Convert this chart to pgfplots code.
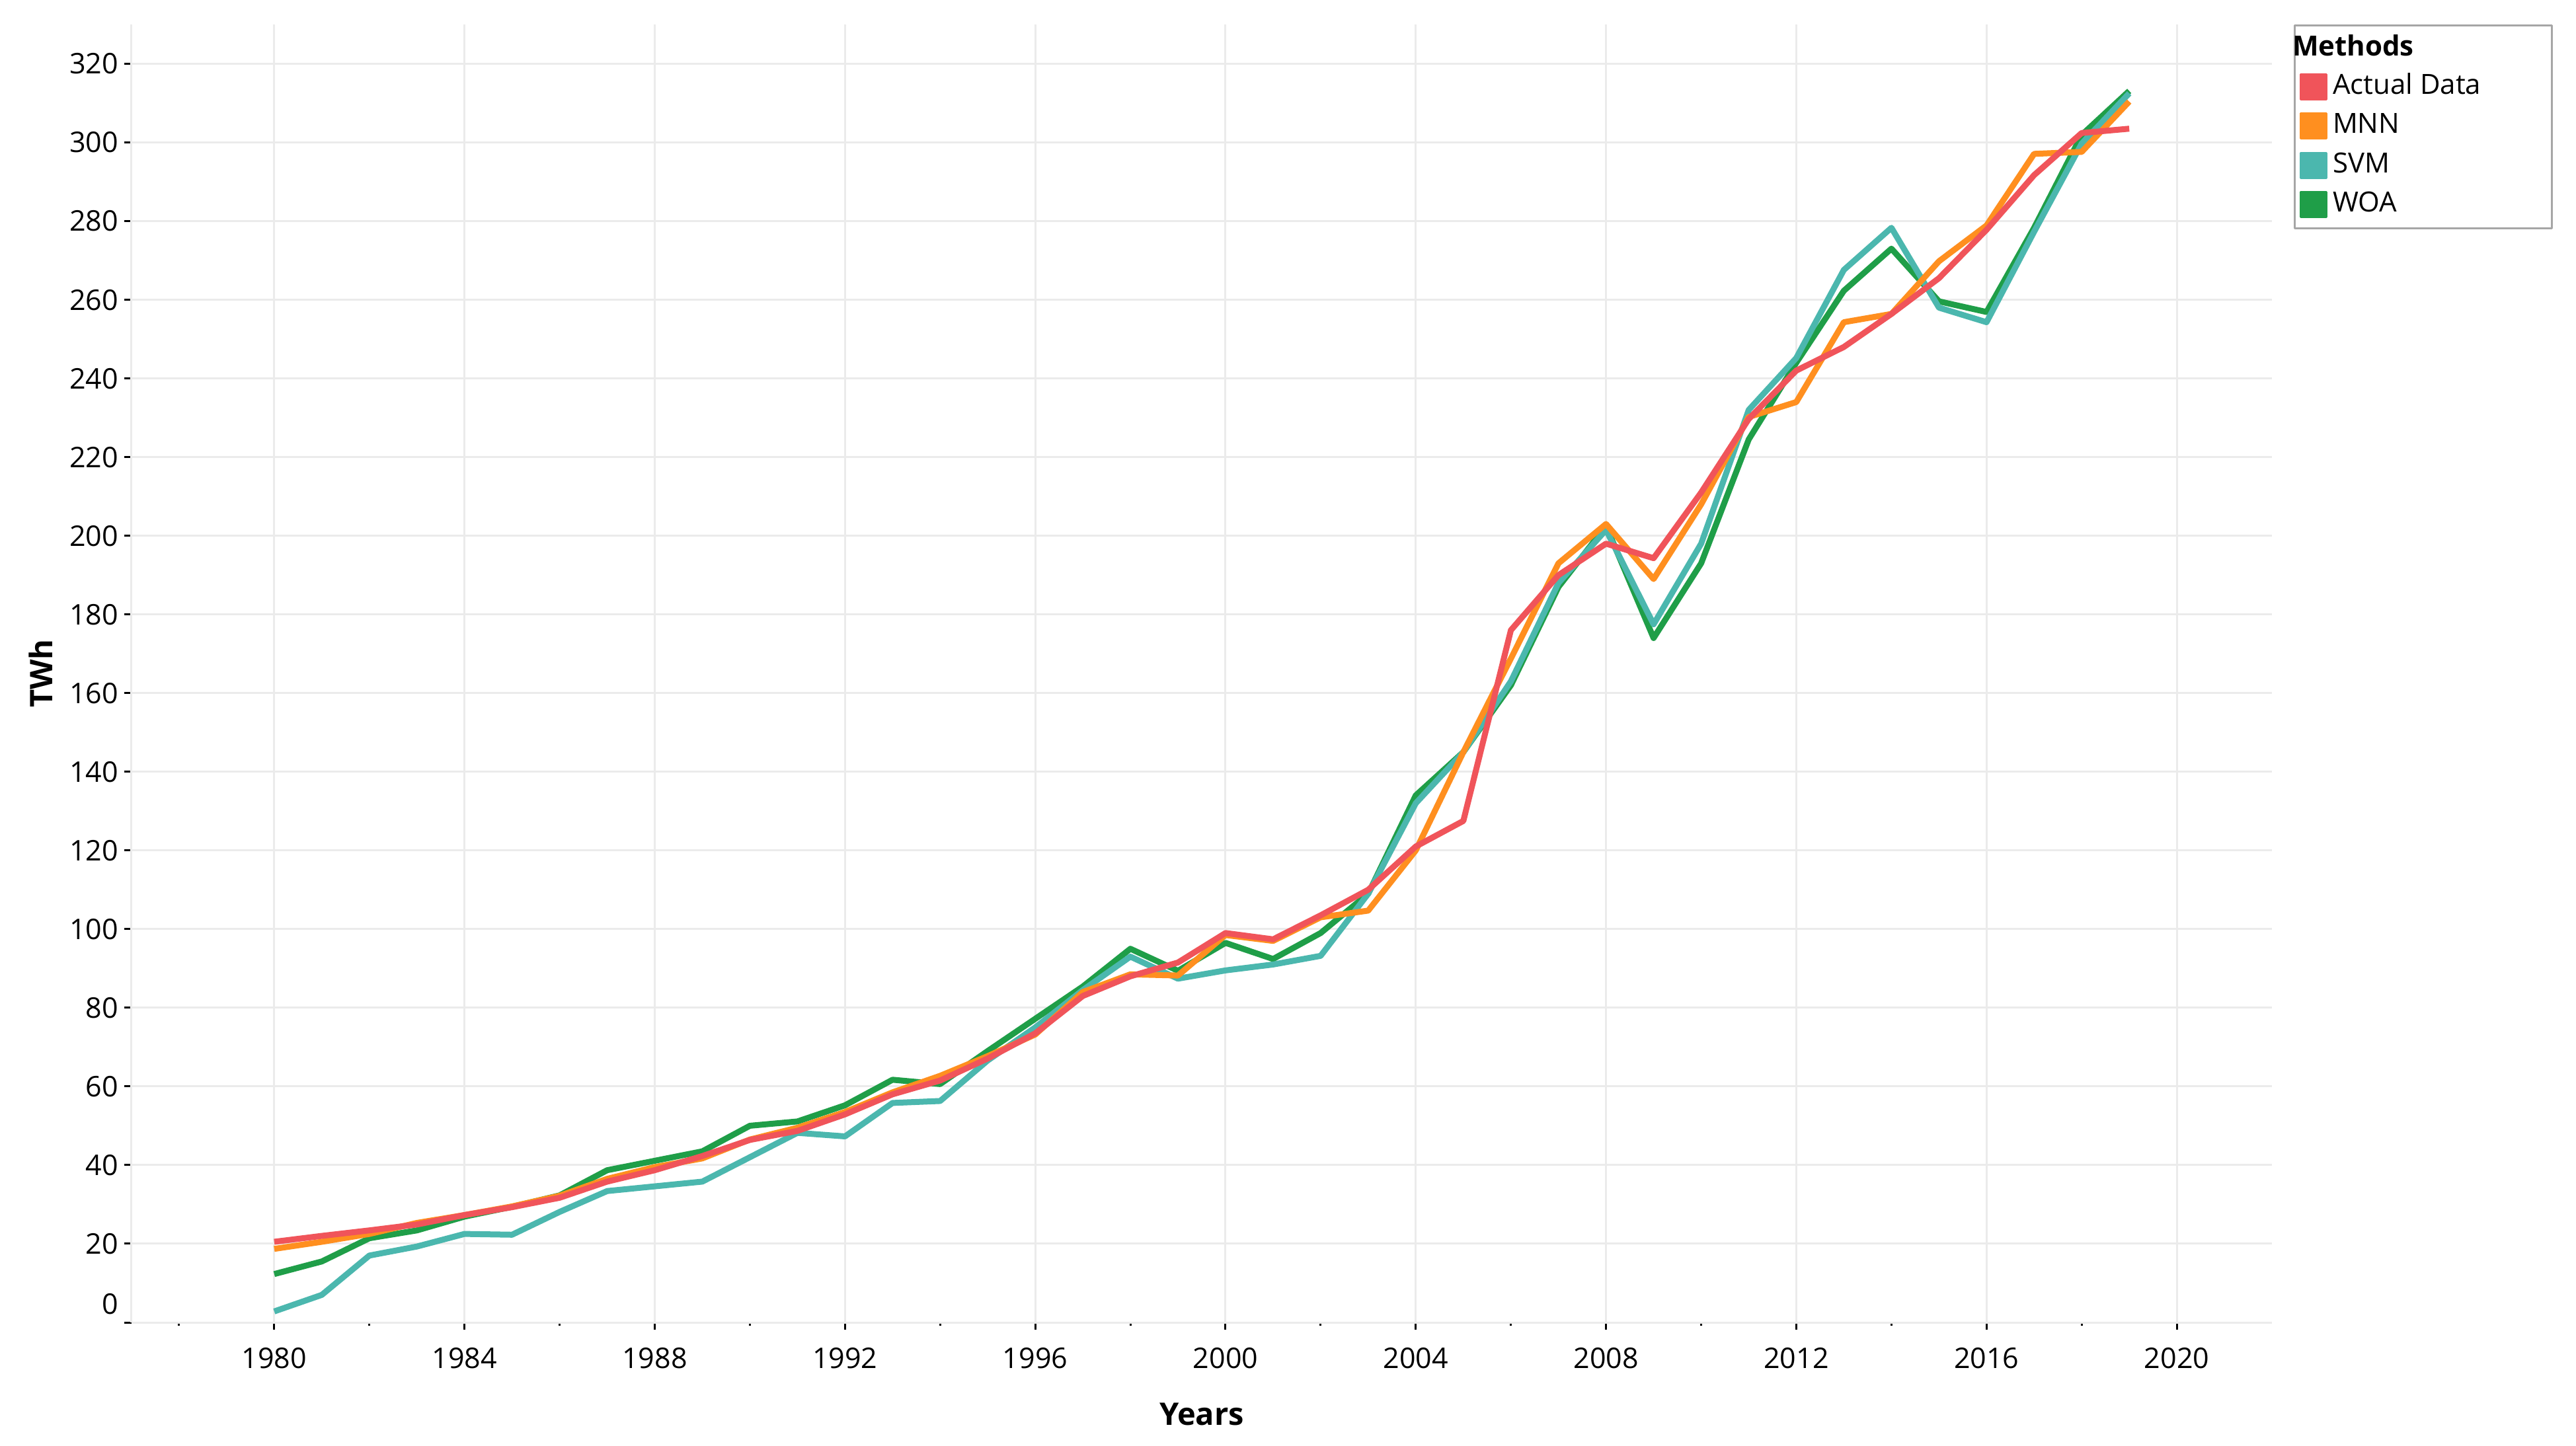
\documentclass[border=0pt]{standalone}
\usepackage{pgfplots}
\pgfplotsset{compat=1.18}
\usepackage{pgfplotstable}
\usepackage{fontspec}
\setmainfont{Open Sans}
\definecolor{cAct}{HTML}{F0545A}
\definecolor{cMNN}{HTML}{FF8F1F}
\definecolor{cSVM}{HTML}{4BB7AE}
\definecolor{cWOA}{HTML}{1F9E48}
\definecolor{cGrid}{HTML}{EBEBEB}

\pgfplotstableread{
year act mnn svm woa
1980 20.5 18.7 2.8 12.3
1981 22.0 20.5 7.0 15.5
1982 23.4 22.5 17.0 21.4
1983 24.9 25.3 19.3 23.4
1984 27.3 27.3 22.5 26.9
1985 29.3 29.5 22.3 29.4
1986 31.7 32.2 28.1 32.3
1987 35.8 36.5 33.4 38.7
1988 38.7 39.5 34.6 41.1
1989 42.3 41.7 35.8 43.5
1990 46.4 46.5 42.0 50.0
1991 48.7 49.5 48.2 51.1
1992 52.9 53.5 47.3 55.2
1993 58.0 58.5 55.8 61.7
1994 61.5 62.7 56.3 60.6
1995 67.1 67.7 66.6 69.0
1996 73.5 73.2 75.0 77.2
1997 83.0 84.0 84.5 85.4
1998 88.0 88.5 93.0 95.0
1999 91.5 88.2 87.4 89.4
2000 99.0 98.5 89.5 96.5
2001 97.4 97.0 91.0 92.4
2002 103.5 103.0 93.2 99.0
2003 110.0 104.7 109.0 109.0
2004 121.0 120.0 132.0 134.0
2005 127.5 145.0 145.0 145.0
2006 176.0 168.8 163.0 162.0
2007 190.0 193.0 188.0 187.0
2008 198.0 203.0 201.5 202.5
2009 194.3 189.0 177.5 174.0
2010 211.0 208.0 198.0 193.0
2011 229.7 230.2 232.0 224.5
2012 242.0 234.0 245.2 244.0
2013 248.0 254.3 267.6 262.3
2014 256.4 256.4 278.3 273.0
2015 265.5 269.8 258.0 259.6
2016 277.8 278.9 254.3 256.9
2017 291.7 297.1 277.3 278.3
2018 302.4 297.6 299.7 301.9
2019 303.5 310.4 312.5 313.1
}\data

\begin{document}
\begin{tikzpicture}
\path[use as bounding box] (0,0) rectangle (779.4pt,437.4pt);
\begin{axis}[
  at={(39.8pt,37.2pt)}, anchor=south west,
  width=647.6pt, height=392.8pt, scale only axis,
  xmin=1977, xmax=2022, ymin=0, ymax=330,
  xtick={1980,1984,...,2020},
  minor xtick={1978,1982,...,2018},
  ytick={0,20,...,320},
  axis lines=left,
  axis line style={-, draw=cGrid, line width=0.6pt},
  grid=major,
  major grid style={draw=cGrid, line width=0.6pt},
  tick align=outside,
  major tick length=2.2pt, minor tick length=1pt,
  tick style={black, line width=0.6pt},
  /pgf/number format/assume math mode=true,
  /pgf/number format/1000 sep={},
  tick label style={font=\fontsize{8.6pt}{10pt}\selectfont},
  xticklabel style={yshift=-1.9pt},
  yticklabel style={inner xsep=1.6pt},
  yticklabel={\ifnum\ticknum=0 \raisebox{11.2pt}{0}\else\pgfmathprintnumber{\tick}\fi},
  xlabel={\textbf{Years}},
  ylabel={\textbf{TWh}},
  label style={font=\fontsize{9.4pt}{11pt}\selectfont},
  xlabel style={at={(axis description cs:0.5,-0.0708)}, anchor=center},
  ylabel style={at={(axis description cs:-0.0423,0.5)}, anchor=center},
  legend cell align=left,
  legend style={at={(1.0102,1.0)}, anchor=north west,
    draw=gray!70, line width=0.6pt, fill=white,
    font=\fontsize{8.4pt}{10pt}\selectfont,
    inner xsep=1.5pt, inner ysep=3.0pt, row sep=3.7pt,
    nodes={inner xsep=1.7pt, inner ysep=0pt, text height=6.1pt, text depth=1.6pt}},
  line join=round,
]
\addlegendimage{empty legend}
\addlegendentry{\makebox[63pt][l]{\hspace*{-12.2pt}\textbf{Methods}}}
\addlegendimage{legend image code/.code={\fill[cAct] (0pt,-3.8pt) rectangle (7.7pt,3.8pt);}}
\addlegendentry{Actual Data}
\addlegendimage{legend image code/.code={\fill[cMNN] (0pt,-3.8pt) rectangle (7.7pt,3.8pt);}}
\addlegendentry{MNN}
\addlegendimage{legend image code/.code={\fill[cSVM] (0pt,-3.8pt) rectangle (7.7pt,3.8pt);}}
\addlegendentry{SVM}
\addlegendimage{legend image code/.code={\fill[cWOA] (0pt,-3.8pt) rectangle (7.7pt,3.8pt);}}
\addlegendentry{WOA}

\addplot[forget plot, cWOA, line width=1.8pt, mark=none] table[x=year, y=woa] {\data};
\addplot[forget plot, cSVM, line width=1.8pt, mark=none] table[x=year, y=svm] {\data};
\addplot[forget plot, cMNN, line width=1.8pt, mark=none] table[x=year, y=mnn] {\data};
\addplot[forget plot, cAct, line width=1.8pt, mark=none] table[x=year, y=act] {\data};
\end{axis}
\end{tikzpicture}
\end{document}
